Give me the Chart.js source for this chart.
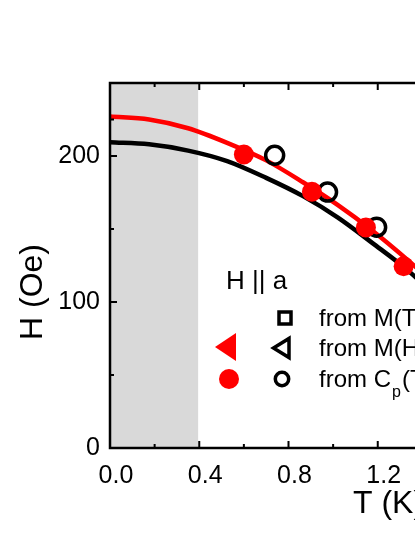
<!DOCTYPE html>
<html>
<head>
<meta charset="utf-8">
<script src="https://cdn.jsdelivr.net/npm/chart.js@4.4.0/dist/chart.umd.min.js"></script>
<style>
  html, body { margin: 0; padding: 0; background: #fff; overflow: hidden; }
  #wrap { width: 415px; height: 537px; overflow: hidden; }
</style>
</head>
<body>
<div id="wrap"><canvas id="chart" width="658" height="537"></canvas></div>
<script>
// fitted curves
const fitT = [0, 0.175, 0.35, 0.525, 0.7, 0.865, 1.02, 1.175, 1.34, 1.5];
const redFitH = [227, 225, 219, 209, 197, 182, 166.5, 149, 128, 106];
const blackFitH = [209.4, 208, 203.7, 196.5, 185, 172.5, 158, 140.5, 121, 98];

// measured points
const redCpT = [0.6, 0.905, 1.147, 1.316];
const redCpH = [201, 175.5, 151, 124.5];
const openCpT = [0.738, 0.975, 1.195];
const openCpH = [200.5, 175.3, 151.2];

// axes
const xRange = [0, 2.4];
const xStep = 0.4;
const yRange = [0, 250];
const yStep = 100;
const shadeRange = [0, 0.395];

const xTitle = "T (K)";
const yTitle = "H (Oe)";
const legendHeader = "H || a";
const legendRows = ["from M(T)", "from M(H)", "from C"];

const FONT = '"Liberation Sans", Arial, sans-serif';
const toXY = (ts, hs) => ts.map((t, i) => ({ x: t, y: hs[i] }));

const decor = {
    id: "decor",
    beforeDatasetsDraw(chart) {
        const { ctx, chartArea: a, scales: { x } } = chart;
        const x0 = x.getPixelForValue(shadeRange[0]);
        const x1 = x.getPixelForValue(shadeRange[1]);
        ctx.save();
        ctx.fillStyle = "#d9d9d9";
        ctx.fillRect(x0, a.top, x1 - x0, a.bottom - a.top);
        ctx.restore();
    },
    afterDraw(chart) {
        const { ctx, chartArea: a, scales: { x, y } } = chart;
        ctx.save();
        ctx.strokeStyle = "#000";
        ctx.fillStyle = "#000";

        // frame
        ctx.lineWidth = 2.5;
        ctx.strokeRect(a.left, a.top, a.right - a.left, a.bottom - a.top);

        // inward ticks
        ctx.lineWidth = 2;
        const mids = vals => vals.slice(1).map((v, i) => (v + vals[i]) / 2);
        const xv = x.ticks.map(t => t.value);
        const yv = y.ticks.map(t => t.value);
        ctx.beginPath();
        xv.forEach(v => {
            const px = x.getPixelForValue(v);
            ctx.moveTo(px, a.bottom); ctx.lineTo(px, a.bottom - 7);
            ctx.moveTo(px, a.top); ctx.lineTo(px, a.top + 7);
        });
        mids(xv).forEach(v => {
            const px = x.getPixelForValue(v);
            ctx.moveTo(px, a.bottom); ctx.lineTo(px, a.bottom - 4);
            ctx.moveTo(px, a.top); ctx.lineTo(px, a.top + 4);
        });
        yv.forEach(v => {
            const py = y.getPixelForValue(v);
            ctx.moveTo(a.left, py); ctx.lineTo(a.left + 7, py);
        });
        mids(yv.concat([yRange[1]])).forEach(v => {
            const py = y.getPixelForValue(v);
            ctx.moveTo(a.left, py); ctx.lineTo(a.left + 4, py);
        });
        ctx.stroke();

        // axis titles
        ctx.font = `32px ${FONT}`;
        ctx.textBaseline = "alphabetic";
        ctx.textAlign = "left";
        ctx.fillText(xTitle, 353, 513);
        ctx.save();
        ctx.translate(42, 292);
        ctx.rotate(-Math.PI / 2);
        ctx.textAlign = "center";
        ctx.fillText(yTitle, 0, 0);
        ctx.restore();

        // legend
        ctx.font = `26px ${FONT}`;
        ctx.fillText(legendHeader, 226, 289);
        ctx.font = `24px ${FONT}`;
        ctx.fillText(legendRows[0], 319, 326);
        ctx.fillText(legendRows[1], 319, 356);
        ctx.fillText(legendRows[2], 319, 387);
        const cw = ctx.measureText(legendRows[2]).width;
        ctx.font = `16px ${FONT}`;
        ctx.fillText("p", 319 + cw + 1, 397);
        const pw = ctx.measureText("p").width;
        ctx.font = `24px ${FONT}`;
        ctx.fillText("(T)", 319 + cw + pw + 2, 387);

        ctx.lineWidth = 3.5;
        ctx.lineJoin = "miter";
        ctx.strokeRect(279, 312, 12, 12);
        ctx.beginPath();
        ctx.moveTo(273.5, 348); ctx.lineTo(289, 338.5); ctx.lineTo(289, 357.5); ctx.closePath();
        ctx.stroke();
        ctx.beginPath();
        ctx.arc(282, 379, 6.7, 0, Math.PI * 2);
        ctx.stroke();

        ctx.fillStyle = "#ff0000";
        ctx.beginPath();
        ctx.moveTo(215, 347); ctx.lineTo(236, 333); ctx.lineTo(236, 361); ctx.closePath();
        ctx.fill();
        ctx.beginPath();
        ctx.arc(229, 379, 10, 0, Math.PI * 2);
        ctx.fill();

        ctx.restore();
    }
};

new Chart(document.getElementById("chart"), {
    type: "scatter",
    data: {
        datasets: [
            { data: toXY(fitT, redFitH), showLine: true, borderColor: "#ff0000", borderWidth: 4.5,
              pointRadius: 0, cubicInterpolationMode: "monotone", order: 3 },
            { data: toXY(fitT, blackFitH), showLine: true, borderColor: "#000", borderWidth: 4.5,
              pointRadius: 0, cubicInterpolationMode: "monotone", order: 3 },
            { data: toXY(openCpT, openCpH), pointRadius: 9, borderWidth: 3.5, borderColor: "#000",
              backgroundColor: "rgba(0,0,0,0)", order: 2 },
            { data: toXY(redCpT, redCpH), pointRadius: 10, borderWidth: 0,
              backgroundColor: "#ff0000", borderColor: "#ff0000", order: 1 }
        ]
    },
    options: {
        responsive: false,
        animation: false,
        layout: { padding: { top: 83, left: 0, right: 0, bottom: 0 } },
        plugins: { legend: { display: false }, tooltip: { enabled: false } },
        scales: {
            x: {
                type: "linear", min: xRange[0], max: xRange[1],
                grid: { display: false }, border: { display: false },
                ticks: { stepSize: xStep, callback: v => v.toFixed(1), color: "#000",
                         font: { family: FONT, size: 25 }, padding: 5, labelOffset: 6,
                         maxRotation: 0, autoSkip: false },
                afterFit(s) { s.height = 89; s.paddingLeft = 0; s.paddingRight = 0; }
            },
            y: {
                type: "linear", min: yRange[0], max: yRange[1],
                grid: { display: false }, border: { display: false },
                ticks: { stepSize: yStep, color: "#000", font: { family: FONT, size: 25 }, padding: 2 },
                afterBuildTicks(s) { s.ticks = s.ticks.filter(t => t.value % yStep === 0); },
                afterFit(s) { s.width = 110; s.paddingTop = 0; s.paddingBottom = 0; }
            }
        }
    },
    plugins: [decor]
});
</script>
</body>
</html>
